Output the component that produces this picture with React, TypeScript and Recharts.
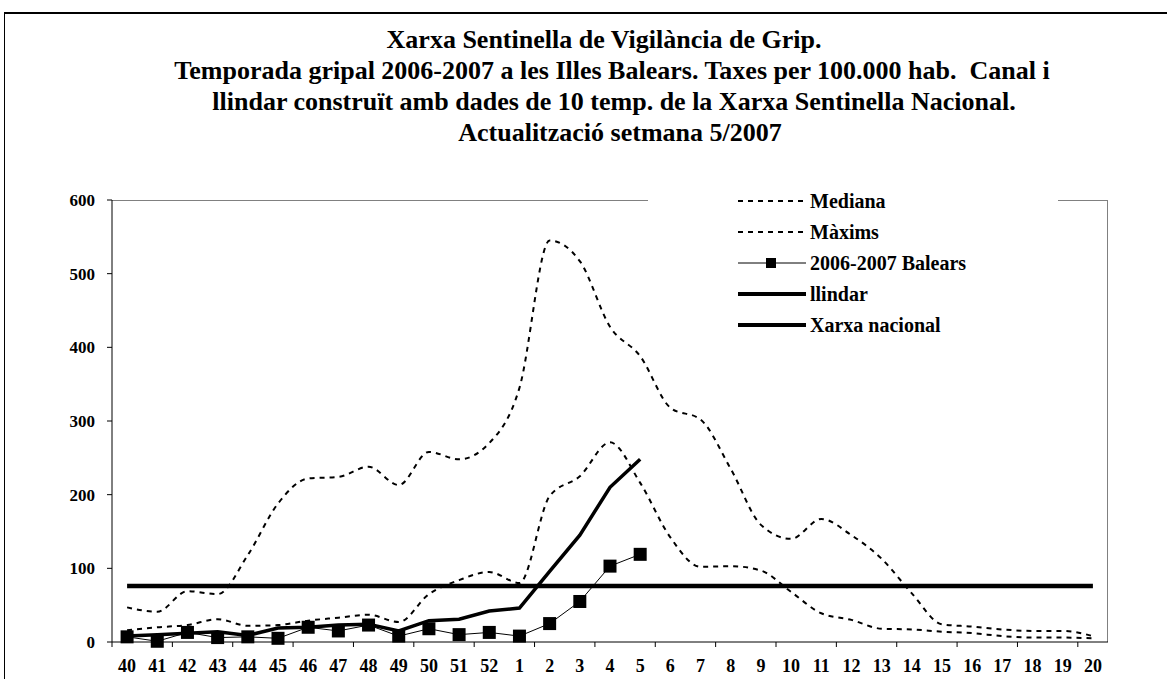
import { LineChart, Line, XAxis, YAxis } from "recharts";

// setmanes epidemiològiques (temporada 2006-2007)
const weeks = [
  "40", "41", "42", "43", "44", "45", "46", "47", "48", "49", "50", "51", "52",
  "1", "2", "3", "4", "5", "6", "7", "8", "9", "10", "11", "12", "13", "14",
  "15", "16", "17", "18", "19", "20",
];

const mediana = [
  16, 20, 23, 31, 22, 23, 29, 33, 37, 27, 65, 84, 95, 80, 198, 225, 271, 216,
  142, 102, 103, 97, 68, 39, 30, 18, 17, 14, 12, 8, 6, 6, 5,
];

const maxims = [
  47, 41, 69, 65, 118, 188, 222, 224, 238, 213, 258, 248, 270, 345, 545, 517,
  428, 388, 318, 302, 235, 159, 140, 167, 145, 113, 66, 24, 21, 17, 15, 15, 8,
];

const balears = [
  7, 1, 13, 6, 7, 5, 20, 15, 23, 8, 18, 10, 13, 8, 25, 55, 103, 119,
  null, null, null, null, null, null, null, null, null, null, null, null, null, null, null,
];

const llindar = [
  76, 76, 76, 76, 76, 76, 76, 76, 76, 76, 76, 76, 76, 76, 76, 76, 76, 76,
  76, 76, 76, 76, 76, 76, 76, 76, 76, 76, 76, 76, 76, 76, 76,
];

const nacional = [
  8, 10, 12, 14, 9, 19, 20, 23, 24, 15, 29, 31, 42, 46, 96, 145, 210, 248,
  null, null, null, null, null, null, null, null, null, null, null, null, null, null, null,
];

const yTicks = [0, 100, 200, 300, 400, 500, 600];

const titleLines = [
  "Xarxa Sentinella de Vigilància de Grip.",
  "Temporada gripal 2006-2007 a les Illes Balears. Taxes per 100.000 hab.  Canal i",
  "llindar construït amb dades de 10 temp. de la Xarxa Sentinella Nacional.",
  "Actualització setmana 5/2007",
];

const rows = weeks.map((w, i) => ({
  week: w,
  mediana: mediana[i],
  maxims: maxims[i],
  balears: balears[i],
  llindar: llindar[i],
  nacional: nacional[i],
}));

const FONT = '"Liberation Serif", "Times New Roman", serif';
const plot = { left: 112, top: 200, right: 1108, bottom: 642 };
const band = (plot.right - plot.left) / weeks.length;

function WeekTick(props: any) {
  const { x, payload, index } = props;
  return (
    <g>
      {index % 2 === 0 && (
        <line x1={x - band / 2} x2={x - band / 2} y1={plot.bottom} y2={plot.bottom + 5} stroke="#000" />
      )}
      <text x={x} y={plot.bottom + 30} textAnchor="middle" fontFamily={FONT} fontWeight="bold" fontSize={18} fill="#000">
        {payload.value}
      </text>
    </g>
  );
}

function SquareDot(props: any) {
  const { cx, cy, value, index } = props;
  if (value == null || cx == null) return <g key={`e${index}`} />;
  return <rect key={`s${index}`} x={cx - 6.5} y={cy - 6.5} width={13} height={13} fill="#000" />;
}

const legendItems = [
  { name: "Mediana", kind: "dot" },
  { name: "Màxims", kind: "dot" },
  { name: "2006-2007 Balears", kind: "square" },
  { name: "llindar", kind: "thick" },
  { name: "Xarxa nacional", kind: "thick" },
];

function LegendSample({ kind }: { kind: string }) {
  return (
    <svg width={68} height={12} style={{ display: "block" }}>
      {kind === "dot" && <line x1={0} x2={68} y1={6} y2={6} stroke="#000" strokeWidth={2} strokeDasharray="5 5" />}
      {kind === "square" && (
        <>
          <line x1={0} x2={68} y1={6} y2={6} stroke="#000" strokeWidth={1} />
          <rect x={28} y={1} width={10} height={10} fill="#000" />
        </>
      )}
      {kind === "thick" && <line x1={0} x2={68} y1={6} y2={6} stroke="#000" strokeWidth={4} />}
    </svg>
  );
}

export default function App() {
  const titleCenters = [604, 612, 614, 620];
  return (
    <div style={{ position: "relative", width: 1167, height: 679, overflow: "hidden", background: "#fff", fontFamily: FONT }}>
      <style>{`body{margin:0}`}</style>
      <div
        style={{
          position: "absolute",
          left: 4,
          top: 12,
          width: 1300,
          height: 800,
          borderTop: "2px solid #000",
          borderLeft: "1px solid #000",
        }}
      />
      {titleLines.map((t, i) => (
        <div
          key={i}
          style={{
            position: "absolute",
            left: titleCenters[i] - 560,
            width: 1120,
            top: 24 + i * 31,
            lineHeight: "31px",
            textAlign: "center",
            fontWeight: "bold",
            fontSize: 26,
            whiteSpace: "pre",
          }}
        >
          {t}
        </div>
      ))}
      {/* plot area border (top + right, grey) */}
      <div
        style={{
          position: "absolute",
          left: plot.left,
          top: plot.top,
          width: plot.right - plot.left,
          height: plot.bottom - plot.top,
          borderTop: "1px solid #808080",
          borderRight: "1px solid #808080",
          boxSizing: "border-box",
        }}
      />
      <div style={{ position: "absolute", left: 0, top: 0 }}>
        <LineChart
          width={1167}
          height={679}
          data={rows}
          margin={{ top: plot.top, right: 1167 - plot.right, bottom: 7, left: plot.left - 60 }}
        >
          <XAxis
            dataKey="week"
            interval={0}
            tickLine={false}
            tickSize={0}
            height={30}
            padding={{ left: band / 2, right: band / 2 }}
            axisLine={{ stroke: "#000" }}
            tick={<WeekTick />}
          />
          <YAxis
            width={60}
            domain={[0, 600]}
            ticks={yTicks}
            tickSize={5}
            tickMargin={12}
            axisLine={{ stroke: "#000" }}
            tickLine={{ stroke: "#000" }}
            tick={{ fill: "#000", fontSize: 17, fontWeight: "bold", fontFamily: FONT }}
          />
          <Line
            type="monotone"
            dataKey="maxims"
            stroke="#000"
            strokeWidth={2}
            strokeDasharray="5 5"
            dot={false}
            isAnimationActive={false}
          />
          <Line
            type="monotone"
            dataKey="mediana"
            stroke="#000"
            strokeWidth={2}
            strokeDasharray="5 5"
            dot={false}
            isAnimationActive={false}
          />
          <Line
            type="linear"
            dataKey="llindar"
            stroke="#000"
            strokeWidth={4.5}
            dot={false}
            isAnimationActive={false}
          />
          <Line
            type="linear"
            dataKey="nacional"
            stroke="#000"
            strokeWidth={3.5}
            dot={false}
            isAnimationActive={false}
          />
          <Line
            type="linear"
            dataKey="balears"
            stroke="#000"
            strokeWidth={1}
            dot={<SquareDot />}
            isAnimationActive={false}
          />
        </LineChart>
      </div>
      {/* legend */}
      <div
        style={{
          position: "absolute",
          left: 648,
          top: 186,
          width: 410,
          height: 154,
          background: "#fff",
        }}
      >
        {legendItems.map((it, i) => (
          <div
            key={it.name}
            style={{
              position: "absolute",
              left: 90,
              top: 3 + i * 31,
              height: 24,
              display: "flex",
              alignItems: "center",
              gap: 4,
            }}
          >
            <LegendSample kind={it.kind} />
            <span style={{ fontWeight: "bold", fontSize: 20, lineHeight: "24px", whiteSpace: "pre" }}>{it.name}</span>
          </div>
        ))}
      </div>
    </div>
  );
}
